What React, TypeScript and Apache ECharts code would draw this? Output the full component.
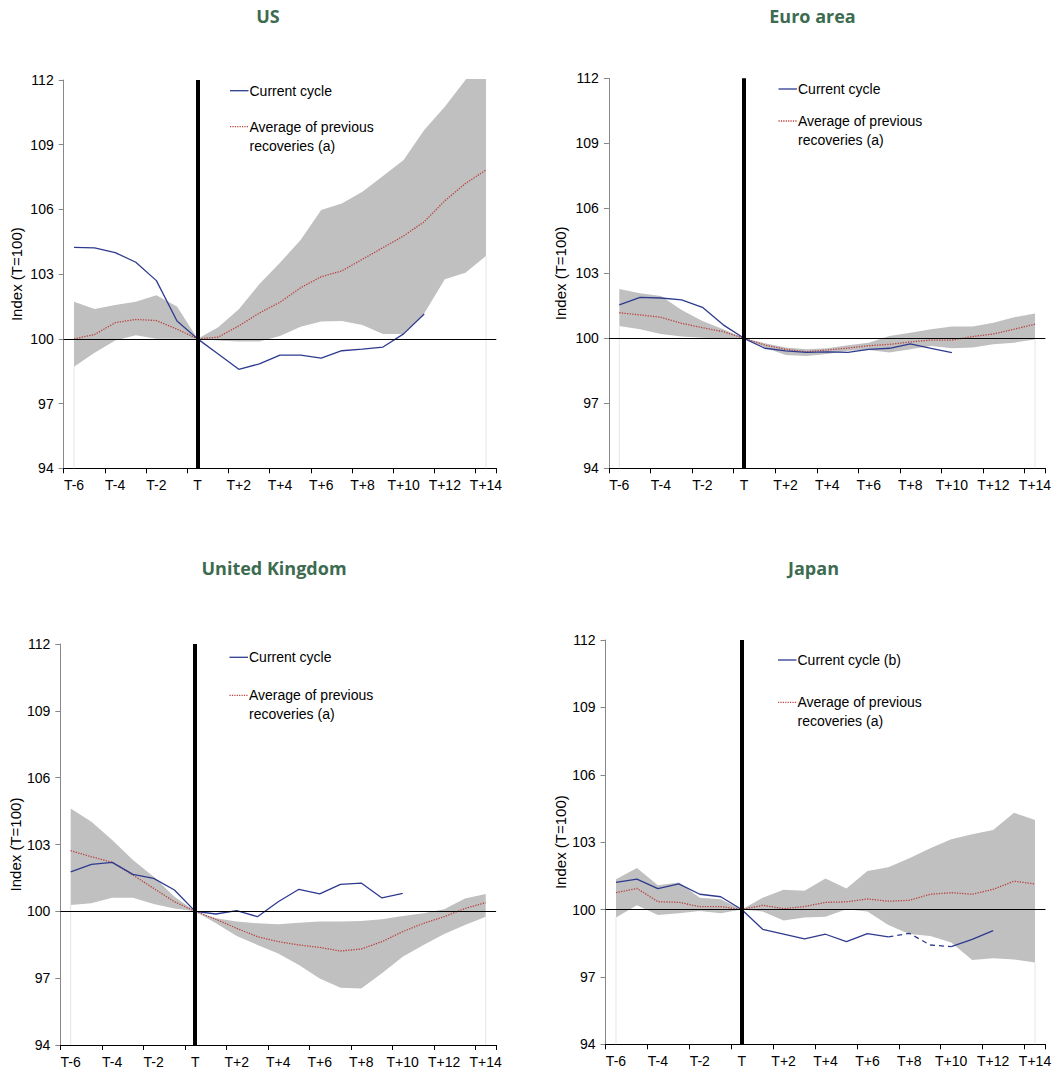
import React, { useEffect, useRef } from "react";
import * as echarts from "echarts";

const categories = ["T-6","T-5","T-4","T-3","T-2","T-1","T","T+1","T+2","T+3","T+4","T+5","T+6","T+7","T+8","T+9","T+10","T+11","T+12","T+13","T+14"];
const yTicks = { min: 94, max: 112, step: 3 };

const usCurrent = [104.24,104.22,104.0,103.55,102.7,100.83,100,99.3,98.59,98.84,99.25,99.25,99.11,99.45,99.52,99.62,100.23,101.15,null,null,null];
const usAverage = [100.0,100.2,100.75,100.9,100.85,100.45,100,100.08,100.6,101.2,101.7,102.37,102.88,103.15,103.69,104.23,104.77,105.43,106.4,107.2,107.83];
const usUpper = [101.72,101.38,101.57,101.72,102.02,101.5,100,100.54,101.37,102.54,103.53,104.58,105.97,106.28,106.82,107.55,108.29,109.68,110.76,112.0,113.5];
const usLower = [98.71,99.36,99.92,100.17,100.0,100.0,100,99.92,99.88,99.88,100.13,100.56,100.8,100.83,100.64,100.23,100.23,101.18,102.76,103.07,103.84];

const euCurrent = [101.54,101.89,101.86,101.77,101.43,100.62,100,99.54,99.42,99.35,99.37,99.35,99.49,99.54,99.74,99.54,99.34,null,null,null,null];
const euAverage = [101.18,101.08,100.97,100.69,100.49,100.31,100,99.69,99.49,99.38,99.46,99.55,99.66,99.72,99.83,99.92,99.92,100.08,100.2,100.42,100.65];
const euUpper = [102.28,102.08,101.95,101.31,100.8,100.42,100,99.77,99.58,99.49,99.54,99.68,99.8,100.11,100.26,100.42,100.54,100.54,100.72,100.97,101.15];
const euLower = [100.57,100.42,100.2,100.08,100.03,100.0,100,99.58,99.23,99.18,99.28,99.43,99.46,99.34,99.49,99.65,99.54,99.58,99.72,99.8,99.95];

const ukCurrent = [101.77,102.11,102.2,101.66,101.48,100.96,100,99.88,100.03,99.76,100.43,100.99,100.78,101.21,101.27,100.6,100.81,null,null,null,null];
const ukAverage = [102.72,102.45,102.2,101.63,101.03,100.43,100,99.64,99.24,98.86,98.64,98.49,98.38,98.22,98.31,98.64,99.09,99.46,99.76,100.13,100.39];
const ukUpper = [104.62,104.02,103.2,102.3,101.55,100.66,100,99.69,99.54,99.46,99.42,99.49,99.54,99.54,99.57,99.64,99.79,99.91,100.09,100.58,100.78];
const ukLower = [100.28,100.36,100.61,100.61,100.33,100.13,100,99.46,98.89,98.49,98.11,97.59,96.99,96.57,96.54,97.22,97.96,98.49,98.98,99.39,99.76];

const jpCurrent = [101.21,101.35,100.93,101.14,100.68,100.57,100,99.12,98.91,98.69,98.9,98.57,98.93,98.78,98.94,98.42,98.35,98.67,99.06,null,null];
const jpEstimated = ["T+7","T+8","T+9","T+10"];
const jpAverage = [100.75,100.94,100.35,100.32,100.13,100.13,100,100.19,100.04,100.13,100.32,100.34,100.47,100.37,100.41,100.68,100.75,100.68,100.9,101.26,101.14];
const jpUpper = [101.35,101.85,101.08,101.2,100.53,100.46,100,100.53,100.88,100.84,101.38,100.94,101.72,101.88,102.28,102.73,103.13,103.35,103.54,104.31,103.99];
const jpLower = [99.65,100.19,99.76,99.84,99.94,99.84,100,99.91,99.51,99.65,99.68,100.01,99.91,99.31,98.91,98.82,98.53,97.75,97.83,97.78,97.64];

const titles = ["US", "Euro area", "United Kingdom", "Japan"];
const currentNames = ["Current cycle", "Current cycle", "Current cycle", "Current cycle (b)"];
const averageName = ["Average of previous", "recoveries (a)"];
const yAxisName = "Index (T=100)";

const BLUE = "#2e3a8f";
const RED = "#b9413e";
const BAND = "#c0c0c0";
const GREEN = "#3d6b50";
const FONT = '"Liberation Sans", Arial, sans-serif';

const layout = [
  { grid: { left: 63.7, top: 80, width: 432.6, height: 388.3 }, title: [268, 16], legend: { x: 230, y1: 90.7, y2: 126.7 }, nameGap: 40 },
  { grid: { left: 608.9, top: 78.3, width: 436.5, height: 390 }, title: [812.5, 15.5], legend: { x: 778.5, y1: 89, y2: 121 }, nameGap: 40.5 },
  { grid: { left: 60.3, top: 644, width: 435.8, height: 401 }, title: [274, 568], legend: { x: 229.5, y1: 657.3, y2: 695.3 }, nameGap: 36 },
  { grid: { left: 605.5, top: 640, width: 440, height: 404.3 }, title: [813.5, 567.5], legend: { x: 778, y1: 660, y2: 702.3 }, nameGap: 36.5 },
];

const panelData = [
  { current: usCurrent, average: usAverage, upper: usUpper, lower: usLower },
  { current: euCurrent, average: euAverage, upper: euUpper, lower: euLower },
  { current: ukCurrent, average: ukAverage, upper: ukUpper, lower: ukLower },
  { current: jpCurrent, average: jpAverage, upper: jpUpper, lower: jpLower, estimated: jpEstimated },
];

function buildOption() {
  const grids: any[] = [];
  const xAxes: any[] = [];
  const yAxes: any[] = [];
  const series: any[] = [];
  const graphics: any[] = [];

  panelData.forEach((p: any, i) => {
    const L = layout[i];
    grids.push({ ...L.grid, containLabel: false });
    xAxes.push({
      type: "category",
      gridIndex: i,
      data: categories,
      boundaryGap: true,
      axisLine: { show: true, lineStyle: { color: "#000", width: 1 } },
      axisTick: { show: true, interval: 1, length: 5, lineStyle: { color: "#000" } },
      axisLabel: { interval: 1, fontSize: 14, color: "#000", fontFamily: FONT, margin: 10 },
      splitLine: { show: false },
    });
    yAxes.push({
      type: "value",
      gridIndex: i,
      min: yTicks.min,
      max: yTicks.max,
      interval: yTicks.step,
      axisLine: { show: true, lineStyle: { color: "#888", width: 1 } },
      axisTick: { show: true, length: 5, lineStyle: { color: "#888" } },
      axisLabel: { fontSize: 14, color: "#000", fontFamily: FONT, margin: 10 },
      splitLine: { show: false },
      name: yAxisName,
      nameLocation: "middle",
      nameGap: L.nameGap,
      nameTextStyle: { fontSize: 15, color: "#000", fontFamily: FONT },
    });

    const diff = p.upper.map((u: number, k: number) => +(u - p.lower[k]).toFixed(3));
    series.push({
      type: "line", xAxisIndex: i, yAxisIndex: i, stack: "band" + i, data: p.lower,
      symbol: "none", lineStyle: { opacity: 0 }, silent: true, z: 1,
    });
    series.push({
      type: "line", xAxisIndex: i, yAxisIndex: i, stack: "band" + i, data: diff,
      symbol: "none", lineStyle: { opacity: 0 }, areaStyle: { color: BAND, opacity: 1 }, silent: true, z: 1,
    });
    const last = categories.length - 1;
    [0, last].forEach((k) => {
      series.push({
        type: "line", xAxisIndex: i, yAxisIndex: i,
        data: [[categories[k], yTicks.min], [categories[k], p.lower[k]]],
        symbol: "none", lineStyle: { color: "#e6e6e6", width: 1 }, silent: true, z: 1,
      });
    });
    series.push({
      type: "line", xAxisIndex: i, yAxisIndex: i, name: "Average of previous recoveries (a)", data: p.average,
      symbol: "none", lineStyle: { color: RED, width: 1.3, type: "dotted" }, z: 3,
    });
    if (p.estimated) {
      const est: string[] = p.estimated;
      const first = categories.indexOf(est[0]);
      const lastE = categories.indexOf(est[est.length - 1]);
      const solid = p.current.map((v: any, k: number) => (k > first && k < lastE ? null : v));
      const dashed = p.current.map((v: any, k: number) => (k >= first && k <= lastE ? v : null));
      series.push({
        type: "line", xAxisIndex: i, yAxisIndex: i, name: currentNames[i], data: solid,
        symbol: "none", connectNulls: false, lineStyle: { color: BLUE, width: 1.3 }, z: 4,
      });
      series.push({
        type: "line", xAxisIndex: i, yAxisIndex: i, data: dashed,
        symbol: "none", connectNulls: false, lineStyle: { color: BLUE, width: 1.3, type: [5, 4] }, z: 4,
      });
    } else {
      series.push({
        type: "line", xAxisIndex: i, yAxisIndex: i, name: currentNames[i], data: p.current,
        symbol: "none", connectNulls: false, lineStyle: { color: BLUE, width: 1.3 }, z: 4,
      });
    }
    series.push({
      type: "line", xAxisIndex: i, yAxisIndex: i, data: [], silent: true, z: 5,
      markLine: {
        silent: true, symbol: ["none", "none"], label: { show: false }, animation: false,
        data: [
          { yAxis: 100, lineStyle: { color: "#000", width: 1, type: "solid" } },
          { xAxis: "T", lineStyle: { color: "#000", width: 4, type: "solid" } },
        ],
      },
    });

    graphics.push({
      type: "text", x: L.title[0], y: L.title[1], z: 10,
      style: { text: titles[i], fill: GREEN, font: 'bold 18px "Open Sans", sans-serif', textAlign: "center", textVerticalAlign: "middle" },
    });
    const lg = L.legend;
    graphics.push({
      type: "line", z: 10, shape: { x1: lg.x, y1: lg.y1, x2: lg.x + 18.5, y2: lg.y1 },
      style: { stroke: BLUE, lineWidth: 1.3 },
    });
    graphics.push({
      type: "text", x: lg.x + 19.5, y: lg.y1, z: 10,
      style: { text: currentNames[i], fill: "#000", font: "14px " + FONT, textVerticalAlign: "middle" },
    });
    graphics.push({
      type: "line", z: 10, shape: { x1: lg.x, y1: lg.y2, x2: lg.x + 18.5, y2: lg.y2 },
      style: { stroke: RED, lineWidth: 1.3, lineDash: [1.2, 1.2] },
    });
    graphics.push({
      type: "text", x: lg.x + 19.5, y: lg.y2, z: 10,
      style: { text: averageName[0], fill: "#000", font: "14px " + FONT, textVerticalAlign: "middle" },
    });
    graphics.push({
      type: "text", x: lg.x + 19.5, y: lg.y2 + 19, z: 10,
      style: { text: averageName[1], fill: "#000", font: "14px " + FONT, textVerticalAlign: "middle" },
    });
  });

  return {
    animation: false,
    backgroundColor: "#fff",
    textStyle: { fontFamily: FONT },
    grid: grids,
    xAxis: xAxes,
    yAxis: yAxes,
    series,
    graphic: graphics,
  };
}

export default function App() {
  const ref = useRef<HTMLDivElement>(null);
  useEffect(() => {
    if (!ref.current) return;
    const chart = echarts.init(ref.current, null, { renderer: "svg" });
    chart.setOption(buildOption() as any);
    return () => chart.dispose();
  }, []);
  return (
    <div
      ref={ref}
      style={{ position: "absolute", left: 0, top: 0, width: 1055, height: 1075, background: "#fff" }}
    />
  );
}
